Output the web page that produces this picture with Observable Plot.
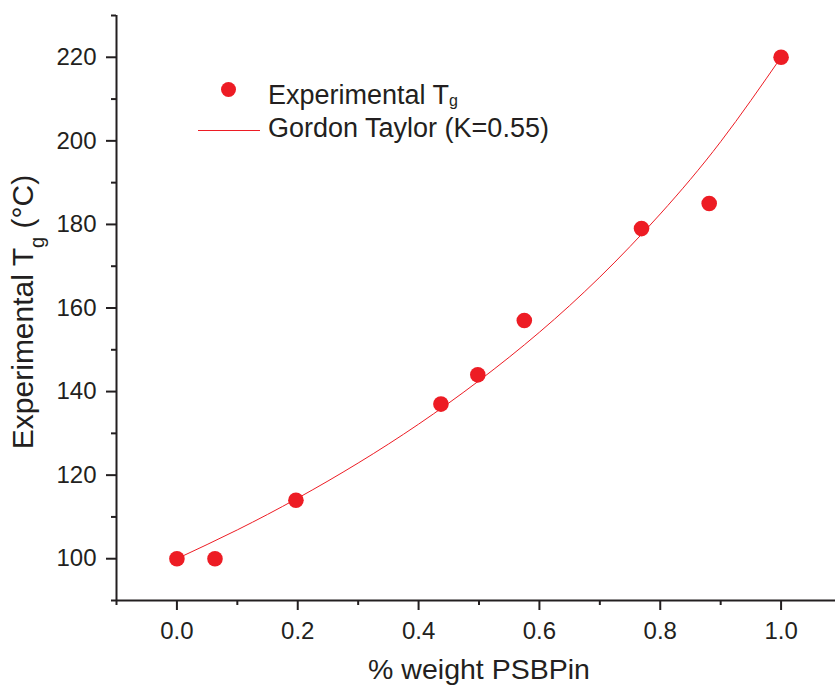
<!DOCTYPE html>
<html>
<head>
<meta charset="utf-8">
<script src="https://cdn.jsdelivr.net/npm/d3@7"></script>
<script src="https://cdn.jsdelivr.net/npm/@observablehq/plot@0.6"></script>
<style>
  html, body { margin: 0; padding: 0; background: #fff; }
  #wrap { position: relative; width: 835px; height: 690px; font-family: "Liberation Sans", Arial, sans-serif; color: #231f20; }
  .leg { position: absolute; font-size: 27px; white-space: nowrap; line-height: 1; }
  .leg sub { font-size: 16px; vertical-align: -2px; line-height: 0; }
</style>
</head>
<body>
<div id="wrap"></div>
<script>
const weightFrac = [0, 0.063, 0.197, 0.437, 0.498, 0.575, 0.769, 0.881, 1.0];
const tgExp = [100, 100, 114, 137, 144, 157, 179, 185, 220];
// Gordon Taylor fit curve
const fitWeight = [0, 0.1, 0.2, 0.3, 0.4, 0.5, 0.6, 0.7, 0.8, 0.9, 1.0];
const fitTg = [100, 106.9, 114.5, 122.9, 132.2, 142.6, 154.2, 167.4, 182.5, 199.8, 220];
// Axis ticks
const xMajor = [0, 0.2, 0.4, 0.6, 0.8, 1.0];
const xMinor = [-0.1, 0.1, 0.3, 0.5, 0.7, 0.9, 1.1];
const yMajor = [100, 120, 140, 160, 180, 200, 220];
const yMinor = [90, 110, 130, 150, 170, 190, 210, 230];

const red = "#ed1c24";
const ink = "#231f20";

const pts = weightFrac.map((w, i) => ({w, tg: tgExp[i]}));
const fit = fitWeight.map((w, i) => ({w, tg: fitTg[i]}));

const chart = Plot.plot({
  width: 835,
  height: 690,
  marginLeft: 116,
  marginTop: 15,
  marginBottom: 90,
  marginRight: 0,
  style: {fontFamily: '"Liberation Sans", Arial, sans-serif', fontSize: "24px", color: ink, background: "white", overflow: "visible"},
  x: {domain: [-0.1, 1.1], range: [116, 841]},
  y: {domain: [90, 230], range: [600, 15]},
  marks: [
    Plot.axisX(xMajor, {tickSize: 10, tickPadding: 11, strokeWidth: 2, tickFormat: d3.format(".1f"), fontSize: 24, label: null}),
    Plot.axisX(xMinor, {tickSize: 5, strokeWidth: 2, text: null, label: null}),
    Plot.axisY(yMajor, {tickSize: 10, tickPadding: 10, strokeWidth: 2, fontSize: 24, label: null}),
    Plot.axisY(yMinor, {tickSize: 5, strokeWidth: 2, text: null, label: null}),
    Plot.ruleX([-0.1], {y1: 90, y2: 230, stroke: ink, strokeWidth: 2}),
    Plot.ruleY([90], {x1: -0.1, x2: 1.1, stroke: ink, strokeWidth: 2}),
    Plot.line(fit, {x: "w", y: "tg", stroke: red, strokeWidth: 1, curve: "natural"}),
    Plot.dot(pts, {x: "w", y: "tg", r: 7.8, fill: red, stroke: "none"}),
    Plot.text(["% weight PSBPin"], {frameAnchor: "bottom", dx: 3, dy: 78, fontSize: 28.5, fill: ink, textAnchor: "middle"}),
    Plot.text(["Experimental Tg (°C)"], {frameAnchor: "left", dx: -93, dy: 4, rotate: -90, fontSize: 30, fill: ink, textAnchor: "middle"})
  ]
});

const wrap = document.getElementById("wrap");
wrap.appendChild(chart);

// Subscript g in the y-axis title
d3.select(chart).selectAll("text").each(function() {
  if (this.textContent === "Experimental Tg (°C)") {
    const t = d3.select(this);
    t.text(null);
    t.append("tspan").text("Experimental T");
    t.append("tspan").attr("dy", 11).attr("font-size", 20).text("g");
    t.append("tspan").attr("dy", -11).text(" (°C)");
  }
});

// Legend overlay
const leg = document.createElement("div");
leg.innerHTML = `
  <div style="position:absolute;left:220.5px;top:81.7px;width:15.6px;height:15.6px;border-radius:50%;background:${red}"></div>
  <div class="leg" style="left:268px;top:82px">Experimental T<sub>g</sub></div>
  <div style="position:absolute;left:198px;top:129.5px;width:62px;height:1px;background:${red}"></div>
  <div class="leg" style="left:268px;top:114.5px">Gordon Taylor (K=0.55)</div>`;
wrap.appendChild(leg);
</script>
</body>
</html>
